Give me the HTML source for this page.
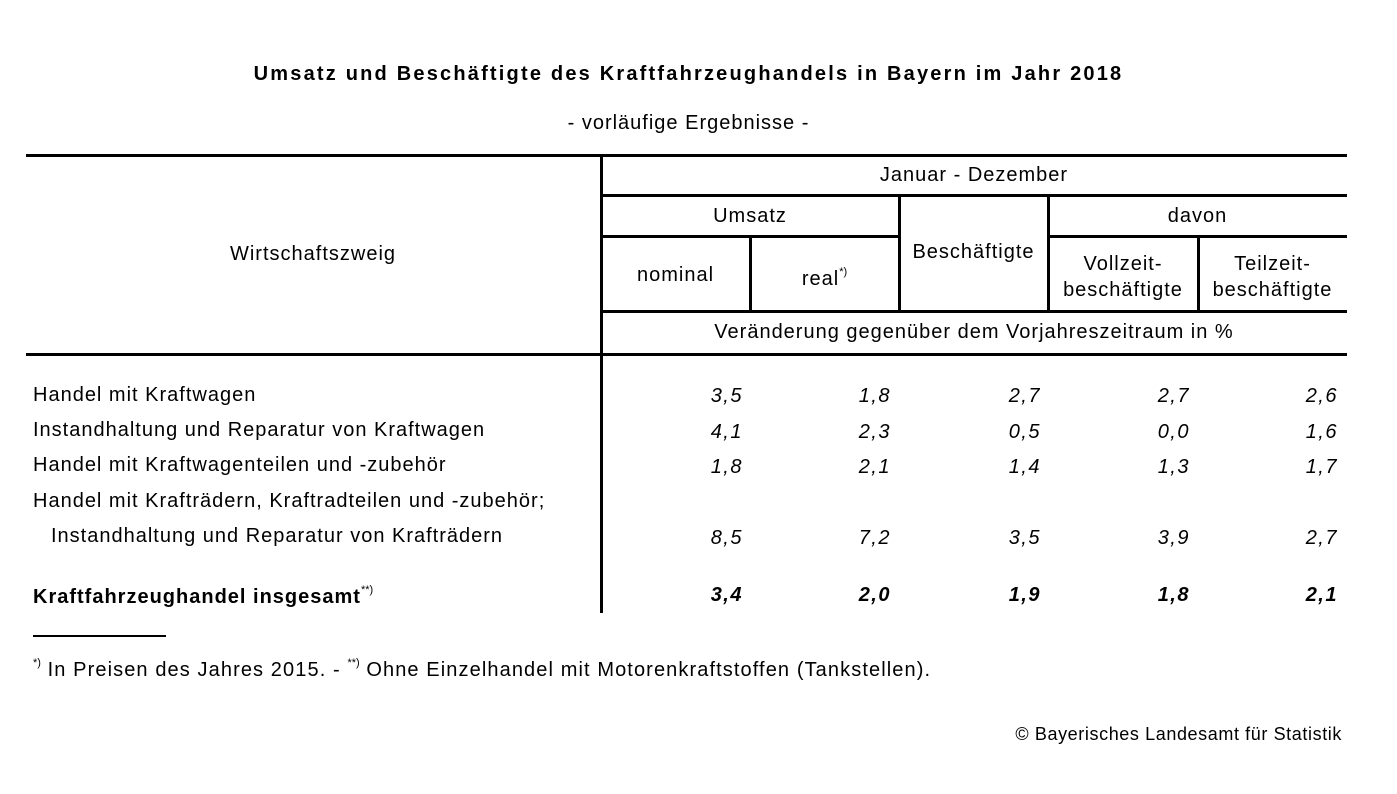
<!DOCTYPE html>
<html><head><meta charset="utf-8"><style>
body{margin:0;width:1397px;height:794px;background:#fff;position:relative;overflow:hidden;font-family:"Liberation Sans",Arial,sans-serif;color:#000;font-size:20px;letter-spacing:1px}
.a{position:absolute;white-space:nowrap}
.h{position:absolute;background:#000;height:3px}
.v{position:absolute;background:#000;width:3px}
.c{text-align:center}
.r{text-align:right;font-style:italic}
sup{font-size:11px;vertical-align:10px;letter-spacing:0}
</style></head><body>
<div class="a c" style="left:0;width:1377px;top:63px;font-weight:bold;font-size:20px;letter-spacing:2.2px">Umsatz und Beschäftigte des Kraftfahrzeughandels in Bayern im Jahr 2018</div>
<div class="a c" style="left:0;width:1377px;top:112px">- vorläufige Ergebnisse -</div>
<div class="h" style="left:26px;width:1321px;top:154px"></div>
<div class="h" style="left:601px;width:746px;top:194px"></div>
<div class="h" style="left:601px;width:298px;top:235px"></div>
<div class="h" style="left:1048px;width:299px;top:235px"></div>
<div class="h" style="left:601px;width:746px;top:310px"></div>
<div class="h" style="left:26px;width:1321px;top:353px"></div>
<div class="v" style="left:600px;top:154px;height:459px"></div>
<div class="v" style="left:749px;top:235px;height:77px"></div>
<div class="v" style="left:898px;top:194px;height:118px"></div>
<div class="v" style="left:1047px;top:194px;height:118px"></div>
<div class="v" style="left:1197px;top:235px;height:77px"></div>
<div class="a c" style="left:26px;width:574px;top:243px">Wirtschaftszweig</div>
<div class="a c" style="left:601px;width:746px;top:164px">Januar - Dezember</div>
<div class="a c" style="left:601px;width:298px;top:205px">Umsatz</div>
<div class="a c" style="left:1048px;width:299px;top:205px">davon</div>
<div class="a c" style="left:601px;width:149px;top:264px">nominal</div>
<div class="a c" style="left:750px;width:149px;top:266px">real<sup>*)</sup></div>
<div class="a c" style="left:899px;width:149px;top:241px">Beschäftigte</div>
<div class="a c" style="left:1048px;width:150px;top:251px;line-height:26px">Vollzeit-<br>beschäftigte</div>
<div class="a c" style="left:1198px;width:149px;top:251px;line-height:26px">Teilzeit-<br>beschäftigte</div>
<div class="a c" style="left:601px;width:746px;top:321px">Veränderung gegenüber dem Vorjahreszeitraum in %</div>
<div class="a" style="left:33px;top:384px">Handel mit Kraftwagen</div>
<div class="a" style="left:33px;top:419px">Instandhaltung und Reparatur von Kraftwagen</div>
<div class="a" style="left:33px;top:454px">Handel mit Kraftwagenteilen und -zubehör</div>
<div class="a" style="left:33px;top:490px">Handel mit Krafträdern, Kraftradteilen und -zubehör;</div>
<div class="a" style="left:51px;top:525px">Instandhaltung und Reparatur von Krafträdern</div>
<div class="a" style="left:33px;top:584px;font-weight:bold">Kraftfahrzeughandel insgesamt<sup style="font-weight:normal">**)</sup></div>
<div id="nums"></div>
<div class="h" style="left:33px;width:133px;top:635px;height:2px"></div>
<div class="a" style="left:33px;top:657px;letter-spacing:1.1px"><sup>*)</sup> In Preisen des Jahres 2015. - <sup>**)</sup> Ohne Einzelhandel mit Motorenkraftstoffen (Tankstellen).</div>
<div class="a" style="right:55px;top:724px;font-size:18px;letter-spacing:0.6px">© Bayerisches Landesamt für Statistik</div>
<script>
var rows=[[385,["3,5","1,8","2,7","2,7","2,6"]],[421,["4,1","2,3","0,5","0,0","1,6"]],[456,["1,8","2,1","1,4","1,3","1,7"]],[527,["8,5","7,2","3,5","3,9","2,7"]],[584,["3,4","2,0","1,9","1,8","2,1"],1]];
var R=[743,891,1041,1190,1338],h="";
rows.forEach(function(r){r[1].forEach(function(t,i){h+='<div class="a r" style="left:'+(R[i]-100)+'px;width:100px;top:'+r[0]+'px;letter-spacing:1.5px;'+(r[2]?'font-weight:bold':'')+'">'+t+'</div>';});});
document.getElementById("nums").innerHTML=h;
</script>
</body></html>
